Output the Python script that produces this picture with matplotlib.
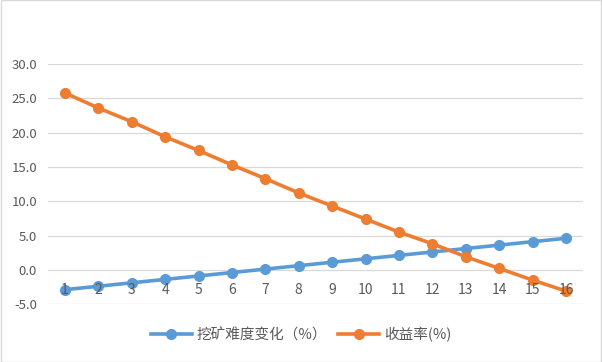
import matplotlib
matplotlib.use("Agg")
from matplotlib import pyplot as plt
from matplotlib.patches import Rectangle
import matplotlib.transforms as mtransforms

plt.rcParams['font.family'] = ['Noto Sans CJK SC', 'DejaVu Sans']

periods = list(range(1, 17))
difficulty = [-2.9, -2.4, -1.9, -1.4, -0.9, -0.4, 0.1, 0.6, 1.1, 1.6, 2.1, 2.6, 3.1, 3.6, 4.1, 4.6]
returns = [25.8, 23.6, 21.6, 19.4, 17.4, 15.3, 13.3, 11.2, 9.3, 7.4, 5.5, 3.8, 1.9, 0.2, -1.5, -3.1]
labels = ["挖矿难度变化（%）", "收益率(%)"]

BLUE = "#5B9BD5"
ORANGE = "#ED7D31"
GRID = "#D9D9D9"
TEXT = "#595959"

fig = plt.figure(figsize=(6.02, 3.62), dpi=100)
ax = fig.add_axes([0.08, 0.16, 0.888, 0.663])

ax.plot(periods, difficulty, color=BLUE, lw=2.6, marker="o", ms=7, label=labels[0])
ax.plot(periods, returns, color=ORANGE, lw=2.6, marker="o", ms=7, label=labels[1])

ax.set_xlim(0.5, 16.5)
ax.set_ylim(-5, 30)
ax.set_yticks(range(-5, 31, 5))
ax.set_yticklabels([f"{v:.1f}" for v in range(-5, 31, 5)])
ax.tick_params(axis="y", length=0, labelsize=9.5, labelcolor=TEXT, pad=8)
ax.set_xticks([])
ax.grid(axis="y", color=GRID, lw=0.9)
ax.set_axisbelow(True)
for s in ax.spines.values():
    s.set_visible(False)

# category labels sit next to the horizontal axis at y=0, drawn over the lines
trans = mtransforms.offset_copy(ax.transData, fig=fig, y=-20, units="dots")
for p in periods:
    ax.text(p, 0, str(p), transform=trans, ha="center", va="center",
            fontsize=10, color=TEXT, zorder=5)

leg = fig.legend(loc="center", bbox_to_anchor=(0.5, 0.075), ncol=2, frameon=False,
                 fontsize=10.5, handlelength=2.8, columnspacing=0.8, handletextpad=0.3)
for t in leg.get_texts():
    t.set_color(TEXT)

fig.patches.append(Rectangle((0.001, 0.001), 0.998, 0.998, transform=fig.transFigure,
                             fill=False, edgecolor="#D9D9D9", lw=1))

fig.savefig("out.png", dpi=100)
